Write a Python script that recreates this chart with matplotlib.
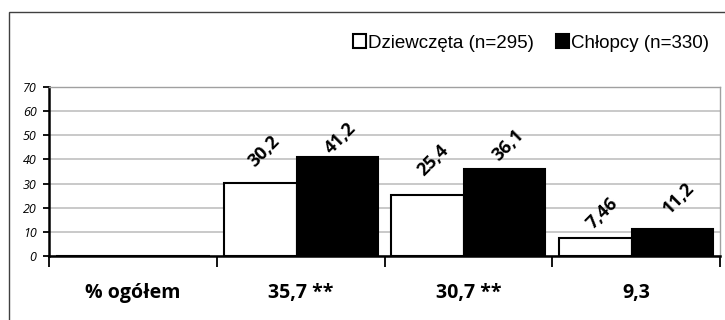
import matplotlib
matplotlib.use("Agg")
import matplotlib.pyplot as plt
from matplotlib.patches import Rectangle
import numpy as np

categories = ["% ogółem", "35,7 **", "30,7 **", "9,3"]
girls = [0, 30.2, 25.4, 7.46]
boys = [0, 41.2, 36.1, 11.2]
girls_labels = [None, "30,2", "25,4", "7,46"]
boys_labels = [None, "41,2", "36,1", "11,2"]
series_names = ["Dziewczęta (n=295)", "Chłopcy (n=330)"]
yticks = [0, 10, 20, 30, 40, 50, 60, 70]

# label offsets in pixels (dx, dy above bar top) - style only
g_off = [(0, 0), (4.5, 32), (5, 34), (6.5, 24.5)]
b_off = [(0, 0), (3.5, 18.5), (3.5, 23.5), (6, 31)]

W, H = 725, 320
fig = plt.figure(figsize=(W / 100, H / 100), dpi=100)
fig.patch.set_facecolor("white")

# outer border
fig.add_artist(Rectangle((9 / W, -0.1), 1.2, (H - 12) / H + 0.1, transform=fig.transFigure,
                         fill=False, edgecolor="#404040", linewidth=1.0))

left, right, top, bottom = 49, 720, 87, 256
ax = fig.add_axes([left / W, 1 - bottom / H, (right - left) / W, (bottom - top) / H])

x = np.arange(len(categories))
wg = 73 / 168
wb = 81 / 168
start = -0.5 + 7 / 168
bg = ax.bar(x + start, girls, width=wg, align="edge", color="white", edgecolor="black",
            linewidth=1.5, zorder=3, label=series_names[0])
bb = ax.bar(x + start + wg, boys, width=wb, align="edge", color="black", edgecolor="black",
            linewidth=1.5, zorder=3, label=series_names[1])

ax.set_xlim(-0.5, len(categories) - 0.5)
ax.set_ylim(0, 70)
ax.set_yticks(yticks)
ax.set_yticklabels([str(v) for v in yticks], fontsize=9, fontstyle="italic", family="Open Sans")
ax.yaxis.grid(True, color="#c0c0c0", linewidth=1.2, zorder=0)
ax.set_axisbelow(True)

ax.set_xticks(np.arange(len(categories) + 1) - 0.5, minor=False)
ax.set_xticklabels([""] * (len(categories) + 1))
ax.tick_params(axis="x", direction="out", length=8, width=1.3, color="black")
ax.tick_params(axis="y", direction="out", length=4, width=1.3, color="black", pad=5)
for i, c in enumerate(categories):
    ax.text(i, -37 / 169 * 70, c, ha="center", va="center", fontsize=14,
            fontweight="bold", family="Open Sans")

for s in ["left", "bottom"]:
    ax.spines[s].set_linewidth(1.8)
    ax.spines[s].set_color("black")
for s in ["top", "right"]:
    ax.spines[s].set_linewidth(1.0)
    ax.spines[s].set_color("#a0a0a0")

def label(rects, texts, offs):
    for r, t, (dx, dy) in zip(rects, texts, offs):
        if t is None:
            continue
        cx = r.get_x() + r.get_width() / 2
        ax.annotate(t, (cx, r.get_height()), xytext=(dx * 0.72, dy * 0.72),
                    textcoords="offset points", rotation=45, ha="center", va="center",
                    fontsize=13, fontweight="bold", family="Open Sans", annotation_clip=False)

label(bg, girls_labels, g_off)
label(bb, boys_labels, b_off)

leg = fig.legend(handles=[bg, bb], labels=series_names, loc="center right",
                 bbox_to_anchor=(726 / W, 1 - 43 / H), ncol=2, frameon=False,
                 handlelength=0.7, handleheight=0.7, handletextpad=0.1, columnspacing=1.2,
                 prop={"family": "Liberation Sans", "size": 13.5})

fig.savefig("out.png", dpi=100)
